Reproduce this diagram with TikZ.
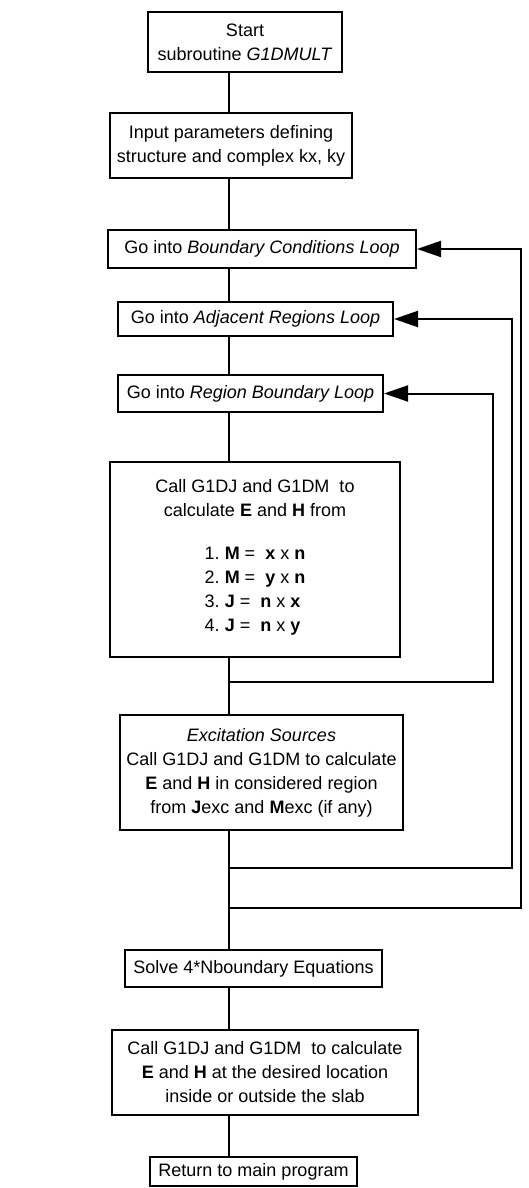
\documentclass[tikz,border=0pt]{standalone}
\usepackage{fontspec}
\setmainfont{Liberation Sans}
\usepackage{tikz}
\usetikzlibrary{positioning,arrows.meta,calc}

\begin{document}
\frenchspacing
\begin{tikzpicture}[x=0.5pt,y=-0.5pt,
   font=\fontsize{9}{12}\selectfont,
   box/.style={draw,line width=1pt,align=center,inner sep=2pt},
   link/.style={line width=1pt},
   back/.style={line width=1pt,-{Triangle[length=12pt,width=8pt]}}]
  \useasboundingbox (0,0) rectangle (529,1188);
  \coordinate (spine) at (229,0);
  % boxes, top to bottom
  \node[box,minimum width=97pt,minimum height=30pt] (start) at (245,42)
    {Start\\subroutine \textit{G1DMULT}};
  \node[box,minimum width=121pt,minimum height=32.5pt] (input) at (231,145.5)
    {Input parameters defining\\structure and complex kx, ky};
  \node[box,minimum width=154pt,minimum height=19pt] (bcloop) at (262,249)
    {Go into \textit{Boundary Conditions Loop}};
  \node[box,minimum width=137.5pt,minimum height=17pt] (adjloop) at (255.5,319)
    {Go into \textit{Adjacent Regions Loop}};
  \node[box,minimum width=132.5pt,minimum height=18.5pt] (regloop) at (250.5,393.5)
    {Go into \textit{Region Boundary Loop}};
  \node[box,minimum width=145pt,minimum height=97.5pt] (calc) at (255,559.5)
    {Call G1DJ and G1DM\ \ to\\calculate \textbf{E} and \textbf{H} from\\[12pt]
     \begin{tabular}{@{}l@{}}
       1. \textbf{M} = \ \textbf{x} x \textbf{n}\\
       2. \textbf{M} = \ \textbf{y} x \textbf{n}\\
       3. \textbf{J} = \ \textbf{n} x \textbf{x}\\
       4. \textbf{J} = \ \textbf{n} x \textbf{y}
     \end{tabular}};
  \node[box,minimum width=141.5pt,minimum height=57.5pt] (excit) at (261.5,772.5)
    {\textit{Excitation Sources}\\Call G1DJ and G1DM to calculate\\
     \textbf{E} and \textbf{H} in considered region\\
     from \textbf{J}exc and \textbf{M}exc (if any)};
  \node[box,minimum width=128.5pt,minimum height=18.5pt] (solve) at (253.5,968.5)
    {Solve 4*Nboundary Equations};
  \node[box,minimum width=153pt,minimum height=42.5pt] (field) at (265,1072.5)
    {Call G1DJ and G1DM\ \ to calculate\\
     \textbf{E} and \textbf{H} at the desired location\\
     inside or outside the slab};
  \node[box,minimum width=103.5pt,minimum height=14.5pt] (ret) at (253.5,1171.5)
    {Return to main program};
  % main line
  \draw[link] (start.south -| spine) -- (input.north -| spine);
  \draw[link] (input.south -| spine) -- (bcloop.north -| spine);
  \draw[link] (bcloop.south -| spine) -- (adjloop.north -| spine);
  \draw[link] (adjloop.south -| spine) -- (regloop.north -| spine);
  \draw[link] (regloop.south -| spine) -- (calc.north -| spine);
  \draw[link] (calc.south -| spine) -- (excit.north -| spine);
  \draw[link] (excit.south -| spine) -- (solve.north -| spine);
  \draw[link] (solve.south -| spine) -- (field.north -| spine);
  \draw[link] (field.south -| spine) -- (ret.north -| spine);
  % loops back
  \coordinate (regbend) at (493,682);
  \coordinate (adjbend) at (512,868);
  \coordinate (bcbend) at (521,908);
  \draw[back] (regbend -| spine) -- (regbend) |- (regloop.east);
  \draw[back] (adjbend -| spine) -- (adjbend) |- (adjloop.east);
  \draw[back] (bcbend -| spine) -- (bcbend) |- (bcloop.east);
\end{tikzpicture}
\end{document}
